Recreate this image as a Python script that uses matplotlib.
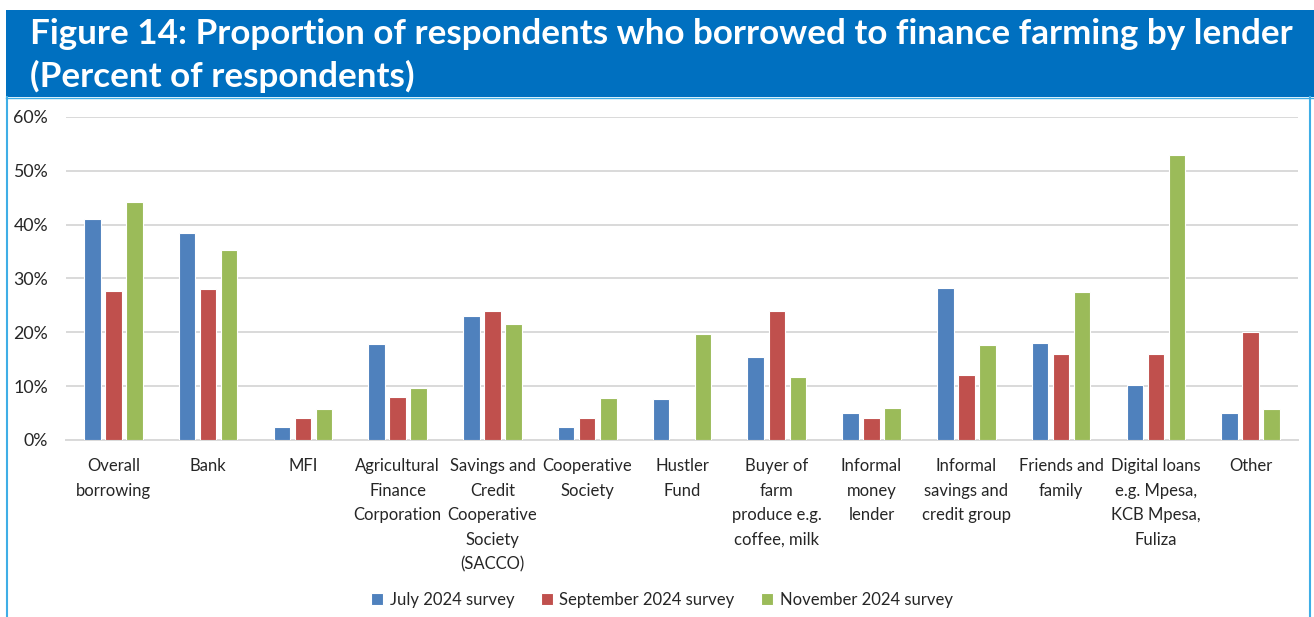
import matplotlib
matplotlib.use("Agg")
import matplotlib.pyplot as plt
import numpy as np
from matplotlib.patches import Rectangle
from matplotlib.lines import Line2D

categories = [
    "Overall\nborrowing", "Bank", "MFI", "Agricultural\nFinance\nCorporation",
    "Savings and\nCredit\nCooperative\nSociety\n(SACCO)", "Cooperative\nSociety",
    "Hustler\nFund", "Buyer of\nfarm\nproduce e.g.\ncoffee, milk",
    "Informal\nmoney\nlender", "Informal\nsavings and\ncredit group",
    "Friends and\nfamily", "Digital loans\ne.g. Mpesa,\nKCB Mpesa,\nFuliza", "Other",
]
series_names = ["July 2024 survey", "September 2024 survey", "November 2024 survey"]
july = [41.0, 38.4, 2.5, 17.9, 23.0, 2.5, 7.7, 15.4, 5.1, 28.2, 18.0, 10.2, 5.1]
september = [27.6, 28.0, 4.0, 8.0, 24.0, 4.0, 0.0, 24.0, 4.0, 12.0, 16.0, 16.0, 20.0]
november = [44.3, 35.3, 5.8, 9.7, 21.6, 7.8, 19.6, 11.7, 5.9, 17.6, 27.4, 53.0, 5.8]
yticks = [0, 10, 20, 30, 40, 50, 60]

colors = ["#4F81BD", "#C0504D", "#9BBB59"]
font = "Lato"
text_color = "#262626"

W, H = 1314, 617
fig = plt.figure(figsize=(W / 100, H / 100), dpi=100)

# Title banner and frame
fig.patches.append(Rectangle((6 / W, 1 - 97 / H), 1 - 6 / W, 87 / H,
                             transform=fig.transFigure, facecolor="#0070C0",
                             edgecolor="none", zorder=0))
frame_col = "#3FAEE6"
fig.add_artist(Line2D([7 / W, 7 / W], [0, 1 - 97 / H], transform=fig.transFigure,
                      color=frame_col, lw=1.5))
fig.add_artist(Line2D([1310 / W, 1310 / W], [0, 1 - 97 / H], transform=fig.transFigure,
                      color=frame_col, lw=1.5))
fig.add_artist(Line2D([6 / W, 1], [1 - 98 / H, 1 - 98 / H], transform=fig.transFigure,
                      color=frame_col, lw=1.0))
fig.text(30 / W, 1 - 34 / H,
         "Figure 14: Proportion of respondents who borrowed to finance farming by lender",
         color="white", fontsize=25.2, fontweight="bold", family=font, va="center", ha="left")
fig.text(30 / W, 1 - 76 / H, "(Percent of respondents)",
         color="white", fontsize=25.2, fontweight="bold", family=font, va="center", ha="left")

ax = fig.add_axes([66 / W, (H - 440) / H, (1298 - 66) / W, (440 - 117) / H])
x = np.arange(len(categories))
bw = 0.174
offs = [-0.222, 0.0, 0.222]
for vals, off, col, name in zip([july, september, november], offs, colors, series_names):
    ax.bar(x + off, vals, width=bw, color=col, edgecolor="white", linewidth=0.8,
           label=name, zorder=3)

ax.set_xlim(-0.5, len(categories) - 0.5)
ax.set_ylim(0, 60)
ax.set_yticks(yticks)
ax.set_yticklabels([f"{v}%" for v in yticks], family=font, fontsize=12.8, color=text_color)
ax.grid(axis="y", color="#D9D9D9", lw=1.4, zorder=0)
ax.tick_params(axis="y", length=0, pad=13)
ax.tick_params(axis="x", length=0, pad=13)
ax.set_xticks(x)
ax.set_xticklabels(categories, family=font, fontsize=12, color=text_color,
                   linespacing=1.66, va="top")
for s in ["top", "right", "left"]:
    ax.spines[s].set_visible(False)
ax.spines["bottom"].set_color("#D9D9D9")
ax.spines["bottom"].set_linewidth(1.4)

leg = fig.legend(*ax.get_legend_handles_labels(), loc="center",
                 bbox_to_anchor=(662 / W, 1 - 600 / H), ncol=3, frameon=False,
                 prop={"family": font, "size": 12}, handlelength=0.7, handleheight=0.7,
                 handletextpad=0.4, columnspacing=1.6)
for t in leg.get_texts():
    t.set_color(text_color)

fig.savefig("out.png", dpi=100)
